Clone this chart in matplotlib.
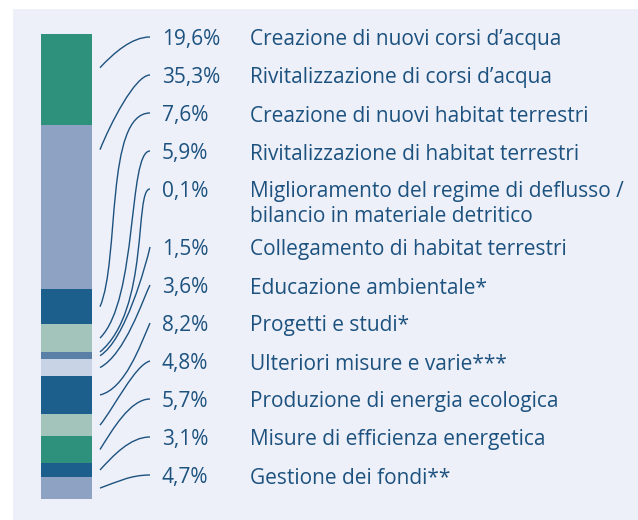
import numpy as np
import matplotlib; matplotlib.use('Agg')
import matplotlib.pyplot as plt
from matplotlib.path import Path
from matplotlib.patches import PathPatch, Rectangle

# ===== Data =====
shares = [19.6, 35.3, 7.6, 5.9, 0.1, 1.5, 3.6, 8.2, 4.8, 5.7, 3.1, 4.7]
share_labels = ["19,6%", "35,3%", "7,6%", "5,9%", "0,1%", "1,5%", "3,6%",
                "8,2%", "4,8%", "5,7%", "3,1%", "4,7%"]
categories = ["Creazione di nuovi corsi d\u2019acqua",
              "Rivitalizzazione di corsi d\u2019acqua",
              "Creazione di nuovi habitat terrestri",
              "Rivitalizzazione di habitat terrestri",
              "Miglioramento del regime di deflusso /\nbilancio in materiale detritico",
              "Collegamento di habitat terrestri",
              "Educazione ambientale*",
              "Progetti e studi*",
              "Ulteriori misure e varie***",
              "Produzione di energia ecologica",
              "Misure di efficienza energetica",
              "Gestione dei fondi**"]
seg_colors = ["#2e917c", "#8ea3c3", "#1c5e8c", "#a3c4bb", "#2e917c", "#5a80a8",
              "#c8d3e5", "#1c5e8c", "#a3c4bb", "#2e917c", "#1c5e8c", "#8ea3c3"]
# where along each segment the connector leaves the bar (0=top, 1=bottom)
anchor_frac = [0.37, 0.15, 0.5, 0.5, 0.5, 0.5, 0.5, 0.5, 0.5, 0.5, 0.5, 0.5]
# bezier handles per connector (px): P1 = start + (a, -b), P2 = end + (-c, d)
handles = [(14, 15, 18, 0), (10, 25, 15, 0), (20, 47, 45, 0), (38, 38, 22, 0),
           (50, 42, 16, 0), (25, 15, 4, 18), (25, 13, 7, 14), (25, 6, 10, 23),
           (15, 19, 15, 4), (12, 19, 20, 0), (13, 14, 20, 0), (17, 6, 20, 0)]

TXT = "#1d527f"
FS = 15
plt.rcParams['font.family'] = ['Open Sans', 'DejaVu Sans']

W, H = 638, 520
fig = plt.figure(figsize=(W / 100, H / 100), dpi=100)
fig.patch.set_facecolor("white")

# overlay axes in pixel coordinates
oax = fig.add_axes([0, 0, 1, 1])
oax.set_xlim(0, W); oax.set_ylim(H, 0); oax.axis("off")
oax.add_patch(Rectangle((13, 9), W - 13, H - 9, facecolor="#edf0f9", edgecolor="none", zorder=0))

# stacked bar axes
bx0, bx1, by0, by1 = 41, 92, 34, 499
bax = fig.add_axes([bx0 / W, 1 - by1 / H, (bx1 - bx0) / W, (by1 - by0) / H])
total = sum(shares)
bottoms = np.concatenate([[0], np.cumsum(shares)[:-1]])
bax.bar(0, shares, bottom=bottoms, width=1.0, color=seg_colors, linewidth=0)
bax.set_xlim(-0.5, 0.5); bax.set_ylim(total, 0); bax.axis("off")

# labels and connectors
y = 38
to_px = oax.transData.inverted()
for i, (lab, cat) in enumerate(zip(share_labels, categories)):
    oax.text(162, y + 7.5, lab, color=TXT, fontsize=FS, va="baseline", ha="left")
    lines = cat.split("\n")
    for k, ln in enumerate(lines):
        oax.text(250, y + 7.5 + 24 * k, ln, color=TXT, fontsize=FS, va="baseline", ha="left")
    a = bottoms[i] + anchor_frac[i] * shares[i]
    _, y0 = to_px.transform(bax.transData.transform((0.5, a)))
    x0 = 100; x1 = 150; y1 = y - 1
    ha, hb, hc, hd = handles[i]
    verts = [(x0, y0), (x0 + ha, y0 - hb), (x1 - hc, y1 + hd), (x1, y1)]
    oax.add_patch(PathPatch(Path(verts, [Path.MOVETO, Path.CURVE4, Path.CURVE4, Path.CURVE4]),
                            facecolor="none", edgecolor=TXT, lw=1.0))
    y += 38 + 20 * (len(lines) - 1)

fig.savefig("out.png", dpi=100)
